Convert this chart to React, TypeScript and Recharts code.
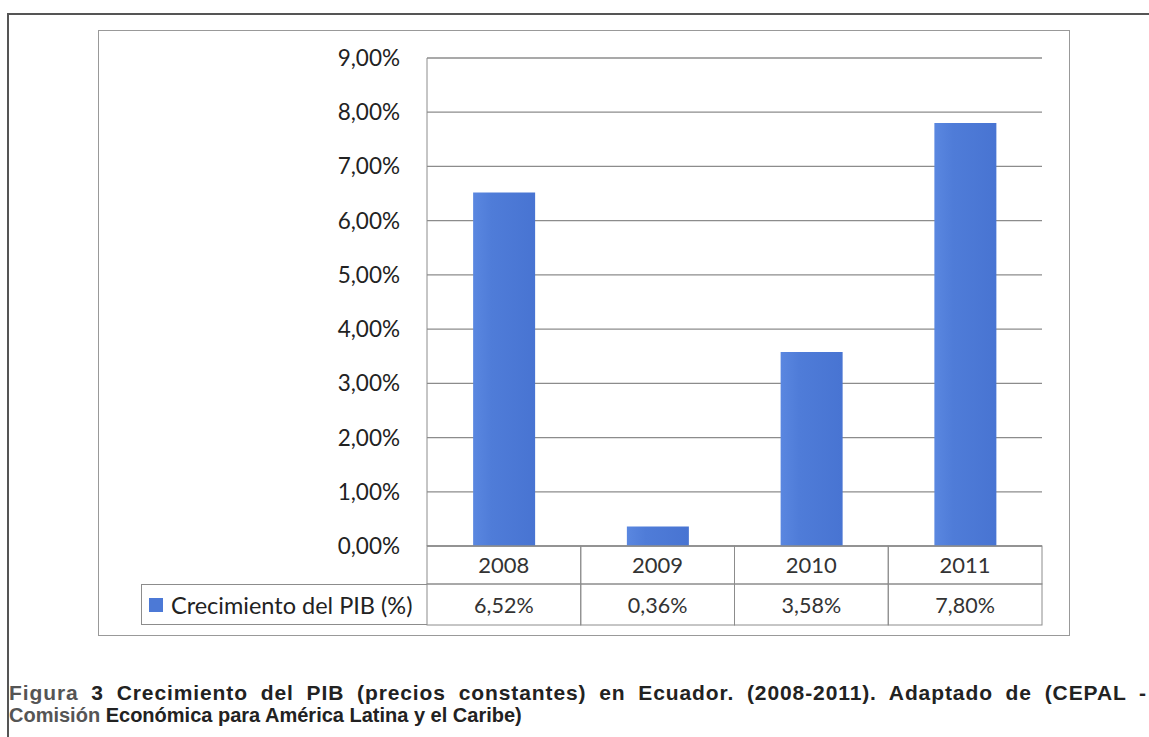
import React from "react";
import { BarChart, Bar, XAxis, YAxis, CartesianGrid } from "recharts";

const years = ["2008", "2009", "2010", "2011"];
const pibGrowth = [6.52, 0.36, 3.58, 7.8];
const yTicks = [0, 1, 2, 3, 4, 5, 6, 7, 8, 9];
const seriesName = "Crecimiento del PIB (%)";

const data = years.map((y, i) => ({ year: y, pib: pibGrowth[i] }));

const BAR_COLOR = "#4c79d6";
const LINE = "#8c8c8c";
const FONT = "Lato, 'Open Sans', sans-serif";

const pct = (v: number) => v.toFixed(2).replace(".", ",") + "%";

// year + value cells of the data table, drawn under each category
function TableTick(props: any) {
  const { x, y, payload, bandW } = props;
  const i = payload.index;
  const left = x - bandW / 2;
  const top = y;
  return (
    <g>
      <rect x={left} y={top} width={bandW} height={38} fill="none" stroke={LINE} strokeWidth={1} />
      <rect x={left} y={top + 38} width={bandW} height={41} fill="none" stroke={LINE} strokeWidth={1} />
      <text x={x} y={top + 27} textAnchor="middle" fontFamily={FONT} fontSize={22} fill="#333">
        {payload.value}
      </text>
      <text x={x} y={top + 67} textAnchor="middle" fontFamily={FONT} fontSize={21.5} fill="#333">
        {pct(pibGrowth[i])}
      </text>
    </g>
  );
}

const captionStyle: React.CSSProperties = {
  position: "absolute",
  left: 9,
  fontFamily: "'Liberation Sans', Arial, sans-serif",
  fontWeight: "bold",
  fontSize: 20,
  lineHeight: "22px",
  color: "#222",
  whiteSpace: "nowrap",
};

export default function App() {
  const chartW = 972;
  const chartH = 606;
  const margin = { top: 28, right: 28, bottom: 0, left: 0 };
  const yAxisW = 329;
  const bandW = (chartW - yAxisW - margin.right) / years.length;

  return (
    <div
      style={{
        position: "absolute",
        left: 0,
        top: 0,
        width: 1149,
        height: 737,
        background: "#fff",
        overflow: "hidden",
      }}
    >
      {/* page frame */}
      <div
        style={{
          position: "absolute",
          left: 7,
          top: 13,
          width: 1160,
          height: 760,
          borderLeft: "2px solid #555",
          borderTop: "2px solid #555",
        }}
      />
      {/* chart box */}
      <div
        style={{
          position: "absolute",
          left: 98,
          top: 30,
          width: chartW,
          height: chartH,
          border: "1px solid #999",
          boxSizing: "border-box",
        }}
      />
      <div style={{ position: "absolute", left: 98, top: 30 }}>
        <BarChart width={chartW} height={chartH} data={data} margin={margin} barCategoryGap="30%">
          <defs>
            <linearGradient id="barFill" x1="0" y1="0" x2="1" y2="0">
              <stop offset="0%" stopColor="#5a87e0" />
              <stop offset="30%" stopColor="#4f7cd8" />
              <stop offset="100%" stopColor="#4874d2" />
            </linearGradient>
          </defs>
          <CartesianGrid vertical={false} stroke={LINE} strokeWidth={1.3} />
          <XAxis
            dataKey="year"
            axisLine={{ stroke: LINE }}
            tickLine={false}
            height={90}
            tickSize={0}
            tickMargin={0}
            interval={0}
            tick={<TableTick bandW={bandW} />}
          />
          <YAxis
            width={yAxisW}
            domain={[0, 9]}
            ticks={yTicks}
            interval={0}
            tickFormatter={pct}
            axisLine={{ stroke: LINE }}
            tickLine={false}
            tickSize={0}
            tickMargin={27}
            tick={{ fontFamily: FONT, fontSize: 22.5, fill: "#222" }}
          />
          <Bar dataKey="pib" fill="url(#barFill)" isAnimationActive={false} />
        </BarChart>
      </div>
      {/* legend cell of the data table */}
      <div
        style={{
          position: "absolute",
          left: 141,
          top: 584,
          width: 427 - 141,
          height: 41,
          border: `1px solid ${LINE}`,
          borderRight: "none",
          boxSizing: "border-box",
          display: "flex",
          alignItems: "center",
          fontFamily: FONT,
          fontSize: 23.5,
          color: "#222",
          whiteSpace: "nowrap",
        }}
      >
        <span
          style={{
            display: "inline-block",
            width: 14,
            height: 14,
            background: BAR_COLOR,
            marginLeft: 7,
            marginRight: 8,
          }}
        />
        {seriesName}
      </div>
      {/* caption */}
      <div
        style={{
          ...captionStyle,
          top: 682,
          width: 1138,
          fontSize: 21,
          letterSpacing: 0.9,
          textAlign: "justify",
          textAlignLast: "justify",
        }}
      >
        <span style={{ color: "#555" }}>Figura</span> 3 Crecimiento del PIB (precios constantes) en
        Ecuador. (2008-2011). Adaptado de (CEPAL -
      </div>
      <div style={{ ...captionStyle, top: 704 }}>
        <span style={{ color: "#555" }}>Comisión</span> Económica para América Latina y el Caribe)
      </div>
    </div>
  );
}
